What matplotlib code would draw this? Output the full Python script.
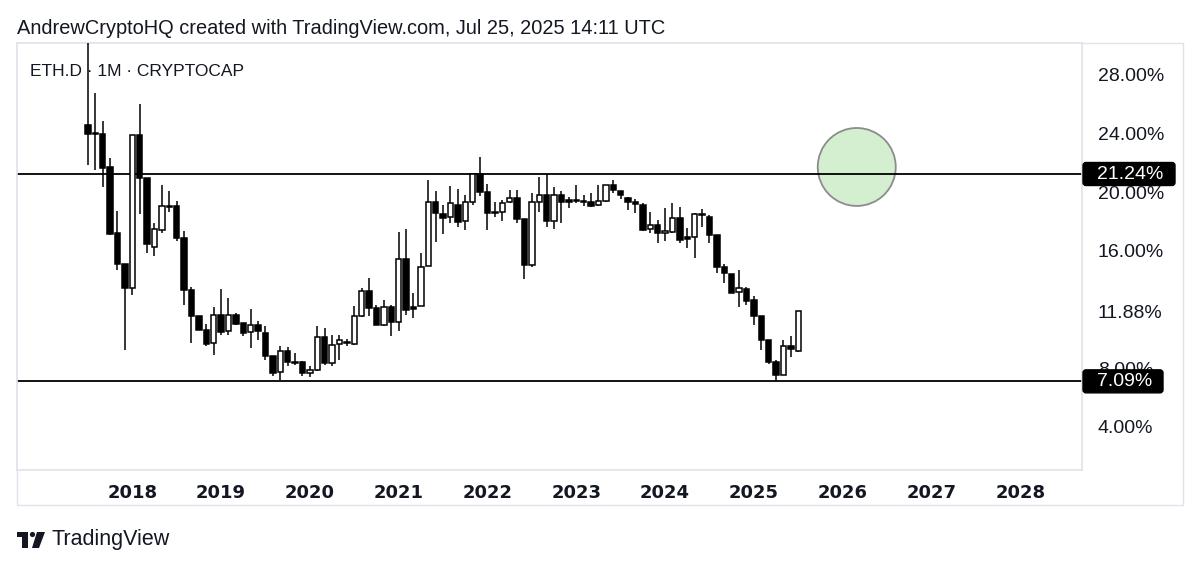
import matplotlib
matplotlib.use("Agg")
import matplotlib.pyplot as plt
from matplotlib.patches import Rectangle, Ellipse, FancyBboxPatch, Polygon, Circle
from matplotlib.transforms import IdentityTransform
import numpy as np
import pandas as pd

# ---------------- data (ETH.D monthly, %) ----------------
months = pd.period_range("2017-07", "2025-07", freq="M")
opens = [24.56, 24.00, 24.00, 21.72, 17.19, 15.08, 13.45, 23.88, 21.00, 16.28,
         17.41, 19.05, 19.07, 16.85, 13.33, 11.52, 10.61, 9.71, 11.63, 10.50,
         11.63, 11.07, 10.43, 10.92, 10.39, 8.80, 7.71, 9.14, 8.39, 8.39,
         7.67, 7.84, 10.11, 8.35, 9.66, 9.70, 9.66, 11.52, 13.27, 12.09,
         10.95, 12.13, 11.11, 15.42, 12.13, 12.20, 14.97, 19.30, 18.48, 18.32,
         19.12, 18.03, 19.34, 21.22, 19.98, 18.66, 18.66, 19.30, 19.57, 18.16,
         15.03, 19.30, 19.84, 18.03, 19.84, 19.39, 19.39, 19.39, 19.34, 19.12,
         19.39, 20.48, 20.09, 19.61, 19.34, 19.12, 17.46, 17.76, 17.19, 17.30,
         18.25, 16.96, 16.96, 18.48, 18.32, 17.07, 14.92, 14.42, 13.22, 13.40,
         12.65, 11.56, 9.88, 8.41, 7.55, 9.48, 9.18]
highs = [31.00, 26.75, 24.83, 22.36, 18.70, 15.10, 23.88, 26.03, 21.00, 17.87,
         20.52, 20.09, 19.41, 17.37, 13.56, 11.56, 11.00, 12.16, 13.40, 12.77,
         11.75, 11.07, 12.00, 11.19, 10.88, 8.80, 9.48, 9.43, 9.03, 8.46,
         8.12, 10.88, 10.73, 10.27, 10.27, 9.98, 12.20, 13.45, 14.13, 12.31,
         12.65, 12.31, 17.30, 17.46, 13.15, 15.87, 20.82, 20.09, 19.12, 20.41,
         20.25, 19.84, 21.22, 22.40, 20.54, 19.34, 19.46, 20.14, 20.14, 18.16,
         19.95, 21.04, 21.27, 20.36, 20.09, 19.68, 20.48, 19.84, 19.91, 20.48,
         20.48, 20.86, 20.09, 19.68, 19.50, 19.27, 18.66, 18.10, 18.89, 19.27,
         18.96, 17.53, 18.59, 18.82, 18.44, 17.07, 15.10, 14.42, 14.69, 13.56,
         12.93, 11.56, 9.88, 8.57, 9.93, 10.16, 11.90]
lows = [21.84, 21.50, 20.36, 17.10, 14.69, 9.25, 13.00, 18.48, 15.83, 15.65,
        17.23, 18.66, 16.67, 12.31, 9.71, 10.60, 9.52, 8.91, 10.27, 10.22,
        10.95, 10.20, 9.37, 9.93, 8.57, 7.48, 7.21, 8.12, 8.23, 7.48,
        7.39, 7.78, 8.23, 8.12, 8.57, 9.48, 9.59, 11.48, 11.52, 10.95,
        10.84, 10.16, 10.50, 11.63, 11.41, 12.20, 14.97, 16.58, 17.12, 17.91,
        17.60, 17.41, 19.12, 19.75, 17.41, 18.32, 18.05, 19.27, 17.87, 14.06,
        14.88, 18.66, 17.60, 17.48, 17.91, 18.89, 19.23, 19.07, 19.00, 19.07,
        19.34, 19.91, 19.50, 18.78, 18.55, 17.37, 17.19, 16.55, 16.67, 17.19,
        16.55, 16.17, 15.49, 17.64, 16.55, 14.51, 13.79, 13.11, 12.16, 12.31,
        10.95, 9.25, 8.30, 7.09, 7.55, 8.75, 9.07]
closes = [23.95, 23.97, 21.66, 17.14, 15.10, 13.45, 23.88, 21.00, 16.46, 17.46,
          19.05, 19.00, 16.85, 13.33, 11.52, 10.61, 9.66, 11.63, 10.43, 11.63,
          11.00, 10.39, 10.95, 10.52, 8.84, 7.67, 9.14, 8.39, 8.35, 7.67,
          7.89, 10.11, 8.35, 9.59, 9.88, 9.75, 11.52, 13.27, 12.09, 10.95,
          12.13, 11.11, 15.42, 11.97, 12.00, 14.92, 19.30, 18.55, 18.25, 19.23,
          17.98, 19.34, 21.22, 20.02, 18.59, 18.60, 19.27, 19.57, 18.16, 15.03,
          19.30, 19.84, 18.03, 19.84, 19.34, 19.36, 19.40, 19.35, 19.05, 19.39,
          20.48, 20.18, 19.80, 19.30, 19.16, 17.41, 17.76, 17.19, 17.35, 18.25,
          16.73, 16.80, 18.48, 18.45, 17.07, 14.92, 14.47, 13.15, 13.45, 12.60,
          11.52, 9.88, 8.39, 7.55, 9.48, 9.30, 11.86]
year_labels = [str(y) for y in range(2018, 2029)]
y_ticks = [4.00, 8.00, 11.88, 16.00, 20.00, 24.00, 28.00]
levels = [21.24, 7.09]

# ---------------- figure ----------------
W, H = 1199, 569
plt.rcParams["font.family"] = ["Liberation Sans", "DejaVu Sans"]
TXT = "#131722"
GRID = "#e0e3eb"
fig = plt.figure(figsize=(W / 100, H / 100), dpi=100)
fig.patch.set_facecolor("white")
ax = fig.add_axes([17 / W, 1 - 470 / H, (1082 - 17) / W, (470 - 43) / H])
ax.set_facecolor("white")

x = np.array([(p.year - 2018) * 12 + p.month - 1 for p in months], dtype=float)
o = np.array(opens); h = np.array(highs); l = np.array(lows); c = np.array(closes)
up = c >= o
body_lo = np.minimum(o, c)
body_h = np.maximum(np.abs(c - o), 0.08)

ax.vlines(x, l, h, color="black", linewidth=1.1, zorder=3)
ax.bar(x[up], body_h[up], bottom=body_lo[up], width=0.72, color="white",
       edgecolor="black", linewidth=1.1, zorder=4)
ax.bar(x[~up], body_h[~up], bottom=body_lo[~up], width=0.72, color="black",
       edgecolor="black", linewidth=1.1, zorder=4)

for lv in levels:
    ax.axhline(lv, color="black", linewidth=1.3, zorder=2)

# green target circle
ax.add_patch(Ellipse((97.9, 21.72), 10.54, 5.32, facecolor="#d4eed0",
                     edgecolor="#8c8c8c", linewidth=1.3, zorder=1))

ax.set_xlim(-15.58, 128.34)
ax.set_ylim(1.04, 30.18)

ax.yaxis.tick_right()
ax.set_yticks(y_ticks)
ax.set_yticklabels([f"{v:.2f}%" for v in y_ticks], fontsize=14, color=TXT)
ax.tick_params(axis="y", length=0, pad=11.5)
ax.set_xticks([(int(y) - 2018) * 12 for y in year_labels])
ax.set_xticklabels(year_labels, fontsize=13, fontweight="bold", color=TXT,
                   family="DejaVu Sans")
ax.tick_params(axis="x", length=0, pad=10)
for s in ax.spines.values():
    s.set_color(GRID)
    s.set_linewidth(1.2)

# outer frame of price/time scales
fig.add_artist(Rectangle((17, H - 505), 1183 - 17, 505 - 43, transform=IdentityTransform(),
                         fill=False, edgecolor=GRID, linewidth=1.0, zorder=0))

# level labels
fig.canvas.draw()
for lv, wbox in zip(levels, [92, 80]):
    yp = ax.transData.transform((0, lv))[1]
    fig.add_artist(FancyBboxPatch((1083, yp - 11.5), wbox, 23,
                                  boxstyle="round,pad=0,rounding_size=3",
                                  transform=IdentityTransform(), facecolor="black",
                                  edgecolor="black", zorder=5))
    fig.text(1097 / W, yp / H, f"{lv:.2f}%", color="white", fontsize=14,
             va="center", ha="left", zorder=6)

# header texts
fig.text(17 / W, 1 - 28 / H, "AndrewCryptoHQ created with TradingView.com, Jul 25, 2025 14:11 UTC",
         fontsize=14.4, color=TXT, va="center", ha="left")
fig.text(30 / W, 1 - 72 / H, "ETH.D · 1M · CRYPTOCAP", fontsize=12.5, color=TXT,
         va="center", ha="left")

# TradingView logo
logo = [
    Rectangle((17, H - 537), 11, 5),
    Rectangle((22, H - 548), 6, 16),
    Circle((32.5, H - 534.5), 2.6),
    Polygon([(37, H - 532), (45, H - 532), (39, H - 548), (32, H - 548)]),
]
for p in logo:
    p.set_transform(IdentityTransform())
    p.set_facecolor(TXT)
    p.set_edgecolor("none")
    fig.add_artist(p)
fig.text(52 / W, 1 - 540 / H, "TradingView", fontsize=15.5, color=TXT, va="center", ha="left")

fig.savefig("out.png", dpi=100, facecolor="white")
